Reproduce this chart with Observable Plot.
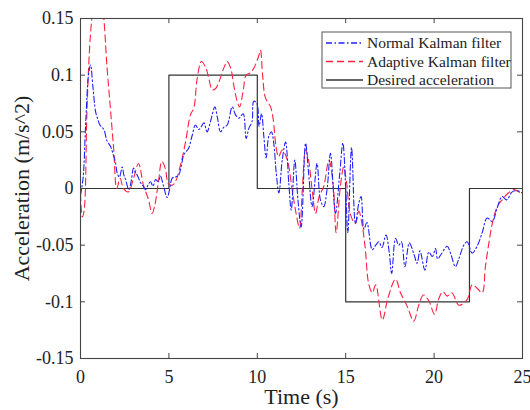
<!DOCTYPE html>
<html>
<head>
<meta charset="utf-8">
<script src="https://cdn.jsdelivr.net/npm/d3@7"></script>
<script src="https://cdn.jsdelivr.net/npm/@observablehq/plot@0.6"></script>
<style>
  html, body { margin: 0; padding: 0; background: #fff; }
  #chart { width: 530px; height: 410px; }
</style>
</head>
<body>
<div id="chart"></div>
<script>
// ---- data ----
const normalT = [0.0,0.15,0.3,0.45,0.57,0.7,0.85,0.94,1.1,1.32,1.5,1.7,1.85,1.98,2.07,2.2,2.36,2.45,2.55,2.73,2.85,3.0,3.1,3.2,3.4,3.55,3.68,3.85,3.96,4.1,4.25,4.4,4.52,4.7,4.9,5.05,5.18,5.35,5.56,5.7,5.85,6.0,6.13,6.32,6.5,6.69,6.85,6.98,7.16,7.35,7.6,7.74,7.92,8.1,8.3,8.58,8.77,8.96,9.2,9.37,9.52,9.7,9.8,9.98,10.1,10.24,10.37,10.5,10.65,10.8,10.93,11.07,11.22,11.41,11.6,11.78,11.92,12.12,12.3,12.48,12.73,12.9,13.1,13.38,13.57,13.76,13.95,14.14,14.42,14.65,14.84,15.0,15.12,15.33,15.55,15.74,15.87,16.03,16.2,16.5,16.7,16.88,17.05,17.28,17.46,17.6,17.82,18.0,18.15,18.35,18.6,18.86,19.04,19.2,19.48,19.7,19.9,20.08,20.2,20.4,20.74,20.95,21.2,21.4,21.68,21.87,22.15,22.43,22.72,23.0,23.29,23.57,23.85,24.1,24.42,24.7,25.0];
const normalA = [-0.006,0.01,0.06,0.1,0.109,0.09,0.068,0.063,0.056,0.052,0.042,0.037,0.03,0.023,0.014,0.01,0.019,0.012,0.008,-0.001,0.005,0.018,0.014,0.012,0.005,0.002,-0.001,0.004,0.006,0.002,0.008,0.006,0.011,0.002,-0.008,0.0,0.009,0.01,0.012,0.02,0.03,0.033,0.036,0.047,0.056,0.052,0.055,0.058,0.05,0.059,0.072,0.063,0.05,0.054,0.056,0.072,0.065,0.062,0.066,0.044,0.053,0.059,0.077,0.075,0.055,0.066,0.046,0.027,0.046,0.05,0.04,0.014,-0.004,0.025,0.041,0.005,-0.019,0.025,-0.01,-0.034,0.04,0.014,-0.016,0.022,-0.01,-0.016,0.0,0.031,-0.022,0.011,0.04,0.0,-0.039,0.036,-0.031,-0.013,-0.007,-0.036,-0.03,-0.054,-0.05,-0.047,-0.052,-0.041,-0.056,-0.075,-0.044,-0.05,-0.047,-0.069,-0.048,-0.058,-0.066,-0.055,-0.072,-0.056,-0.06,-0.053,-0.062,-0.058,-0.051,-0.058,-0.069,-0.062,-0.05,-0.047,-0.057,-0.051,-0.039,-0.026,-0.029,-0.017,-0.007,-0.01,-0.003,-0.002,-0.004];

const adaptiveT = [0.0,0.1,0.2,0.36,0.5,0.64,0.8,1.0,1.2,1.32,1.5,1.7,1.88,2.05,2.24,2.43,2.71,3.0,3.28,3.56,3.85,4.05,4.2,4.41,4.6,4.79,4.98,5.2,5.37,5.66,5.94,6.22,6.41,6.6,6.84,7.1,7.26,7.45,7.63,7.83,8.1,8.3,8.5,8.67,8.86,9.0,9.2,9.37,9.6,9.8,10.1,10.18,10.3,10.46,10.75,10.9,11.05,11.2,11.41,11.7,11.97,12.16,12.39,12.55,12.73,12.9,13.1,13.3,13.5,13.76,14.05,14.3,14.46,14.7,14.89,15.05,15.27,15.55,15.74,15.93,16.1,16.3,16.5,16.7,17.07,17.4,17.82,18.1,18.48,18.85,19.13,19.4,19.7,20.02,20.27,20.5,20.74,21.0,21.4,21.68,21.9,22.15,22.43,22.72,22.9,23.1,23.29,23.57,23.85,24.2,24.5,24.9];
const adaptiveA = [-0.005,-0.025,-0.02,0.065,0.12,0.15,0.17,0.175,0.165,0.15,0.107,0.069,0.034,0.0,0.009,0.0,-0.003,0.009,0.022,0.003,-0.01,-0.022,-0.015,0.006,0.024,0.018,0.004,0.003,0.006,0.021,0.041,0.065,0.071,0.097,0.112,0.106,0.097,0.087,0.088,0.094,0.106,0.112,0.106,0.091,0.077,0.072,0.086,0.1,0.102,0.106,0.118,0.122,0.1,0.08,0.072,0.061,0.038,0.028,0.034,0.025,-0.001,-0.019,-0.035,0.0,0.034,0.025,-0.001,-0.022,-0.007,0.002,0.025,0.002,-0.039,0.002,0.019,0.005,-0.023,-0.031,-0.02,-0.032,-0.052,-0.084,-0.092,-0.085,-0.116,-0.096,-0.08,-0.092,-0.104,-0.117,-0.103,-0.094,-0.099,-0.111,-0.097,-0.091,-0.095,-0.092,-0.103,-0.101,-0.097,-0.085,-0.088,-0.092,-0.069,-0.048,-0.031,-0.016,-0.01,-0.004,-0.001,-0.004];

const desiredT = [0, 5, 10, 15, 22, 25];
const desiredA = [0, 0.1, 0, -0.1, 0, 0];

const xTicks = [0, 5, 10, 15, 20, 25];
const xTickLabels = ["0", "5", "10", "15", "20", "25"];
const yTicks = [-0.15, -0.1, -0.05, 0, 0.05, 0.1, 0.15];
const yTickLabels = ["-0.15", "-0.1", "-0.05", "0", "0.05", "0.1", "0.15"];

const seriesNames = ["Normal Kalman filter", "Adaptive Kalman filter", "Desired acceleration"];
const xLabel = "Time (s)";
const yLabel = "Acceleration (m/s^2)";

// ---- build tables ----
const normal = normalT.map((t, i) => ({t, a: normalA[i]}));
const adaptive = adaptiveT.map((t, i) => ({t, a: adaptiveA[i]}));
const desired = desiredT.map((t, i) => ({t, a: desiredA[i]}));

const BLUE = "#2020ff", RED = "#ff2040", BLACK = "#333333";
const font = "'Liberation Serif', 'Times New Roman', serif";
const tickLenY = 0.0045, tickLenX = 0.28;

const chart = Plot.plot({
  width: 530,
  height: 410,
  marginLeft: 80,
  marginRight: 8,
  marginTop: 18,
  marginBottom: 52,
  style: {fontFamily: font, fontSize: "18px", color: "#222", background: "#fff"},
  x: {domain: [0, 25]},
  y: {domain: [-0.15, 0.15]},
  marks: [
    Plot.line(desired, {x: "t", y: "a", curve: "step-after", stroke: BLACK, strokeWidth: 1.2}),
    Plot.line(adaptive, {x: "t", y: "a", curve: "catmull-rom", stroke: RED, strokeWidth: 1.1, strokeDasharray: "7,4", clip: true}),
    Plot.line(normal, {x: "t", y: "a", curve: "catmull-rom", stroke: BLUE, strokeWidth: 1.1, strokeDasharray: "6,2.5,1.5,2.5", clip: true}),
    // inward ticks on all four sides
    Plot.ruleX(xTicks, {x: d => d, y1: -0.15, y2: -0.15 + tickLenY, stroke: "#444"}),
    Plot.ruleX(xTicks, {x: d => d, y1: 0.15, y2: 0.15 - tickLenY, stroke: "#444"}),
    Plot.ruleY(yTicks, {y: d => d, x1: 0, x2: tickLenX, stroke: "#444"}),
    Plot.ruleY(yTicks, {y: d => d, x1: 25, x2: 25 - tickLenX, stroke: "#444"}),
    Plot.frame({stroke: "#444", strokeWidth: 1.1}),
    Plot.axisX(xTicks, {tickSize: 0, tickPadding: 12, tickFormat: (d, i) => xTickLabels[i], label: null, fontSize: 18}),
    Plot.axisY(yTicks, {tickSize: 0, tickPadding: 7, tickFormat: (d, i) => yTickLabels[i], label: null, fontSize: 18}),
    Plot.text([xLabel], {text: d => d, frameAnchor: "bottom", dy: 45, textAnchor: "middle", fontSize: 22, fill: "#222"}),
    Plot.text([yLabel], {text: d => d, frameAnchor: "left", dx: -59, rotate: -90, textAnchor: "middle", fontSize: 22, fill: "#222"})
  ]
});
document.getElementById("chart").appendChild(chart);

// ---- legend (inside plot, upper right) ----
const svg = d3.select(chart);
const lg = svg.append("g").attr("transform", "translate(322,32)");
lg.append("rect").attr("width", 189).attr("height", 56).style("fill", "#fff").style("stroke", "#555").style("stroke-width", 1);
const styles = [
  {stroke: BLUE, dash: "6,2.5,1.5,2.5"},
  {stroke: RED, dash: "7,4"},
  {stroke: BLACK, dash: "none"}
];
seriesNames.forEach((name, i) => {
  const y = 11 + i * 18.5;
  lg.append("path").attr("d", `M4,${y}H41`)
    .style("fill", "none")
    .style("stroke", styles[i].stroke).style("stroke-width", 1.3)
    .style("stroke-dasharray", styles[i].dash);
  lg.append("text").attr("x", 45).attr("y", y).attr("dy", "0.35em")
    .attr("text-anchor", "start")
    .attr("font-family", font).attr("font-size", 15.5).style("fill", "#222").text(name);
});
</script>
</body>
</html>
